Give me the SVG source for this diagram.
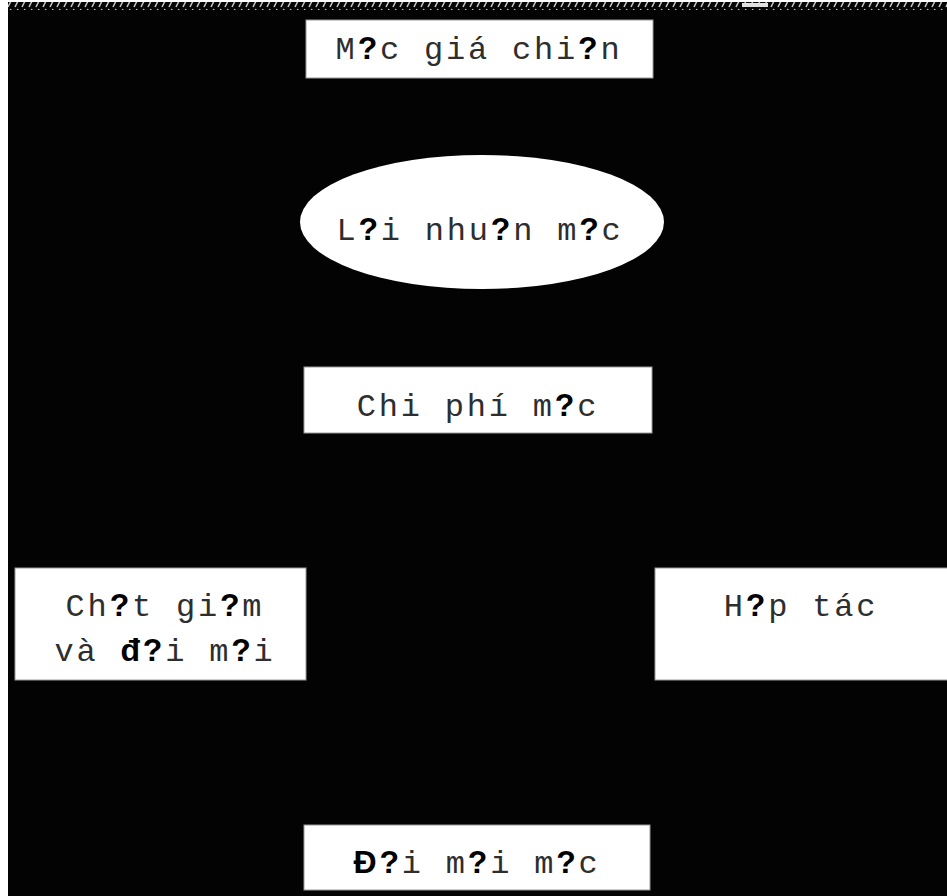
<svg xmlns="http://www.w3.org/2000/svg" width="947" height="896" viewBox="0 0 947 896">
<defs>
<style>
.box{fill:#ffffff;stroke:#9a9a9a;stroke-width:1}
.t{font-family:"Liberation Mono","Courier New",monospace;font-size:32px;fill:#2e2e2e;letter-spacing:2.8px;text-anchor:middle}
.q{font-family:"Liberation Sans",Arial,sans-serif;font-weight:bold;fill:#000000}
</style>
<pattern id="hatch" x="0" y="0" width="7" height="8" patternUnits="userSpaceOnUse">
<rect width="7" height="8" fill="#050505"/>
<path d="M1,7 L4,1" stroke="#c8c8c8" stroke-width="1.5"/>
</pattern>
</defs>
<rect x="0" y="0" width="947" height="896" fill="#ffffff"/>
<rect x="8" y="2" width="939" height="894" fill="#030303"/>
<rect x="8" y="2" width="939" height="8" fill="url(#hatch)"/>
<rect x="742" y="3" width="26" height="4" fill="#e0e0e0"/>
<g id="connectors"></g>
<g id="n1">
<rect class="box" x="306" y="20" width="347" height="58"/>
<text class="t" x="479" y="59">M<tspan class="q">?</tspan>c giá chi<tspan class="q">?</tspan>n</text>
</g>
<g id="n2">
<ellipse cx="482" cy="222" rx="182" ry="67" fill="#ffffff"/>
<text class="t" x="480" y="240">L<tspan class="q">?</tspan>i nhu<tspan class="q">?</tspan>n m<tspan class="q">?</tspan>c</text>
</g>
<g id="n3">
<rect class="box" x="304" y="367" width="348" height="66"/>
<text class="t" x="478" y="416">Chi phí m<tspan class="q">?</tspan>c</text>
</g>
<g id="n4">
<rect class="box" x="15" y="568" width="291" height="112"/>
<text class="t" x="165" y="616">Ch<tspan class="q">?</tspan>t gi<tspan class="q">?</tspan>m</text>
<text class="t" x="165" y="661">và <tspan class="q">đ?</tspan>i m<tspan class="q">?</tspan>i</text>
</g>
<g id="n5">
<rect class="box" x="655" y="568" width="300" height="112"/>
<text class="t" x="801" y="616">H<tspan class="q">?</tspan>p tác</text>
</g>
<g id="n6">
<rect class="box" x="304" y="825" width="346" height="65"/>
<text class="t" x="477" y="873"><tspan class="q">Đ?</tspan>i m<tspan class="q">?</tspan>i m<tspan class="q">?</tspan>c</text>
</g>
</svg>
